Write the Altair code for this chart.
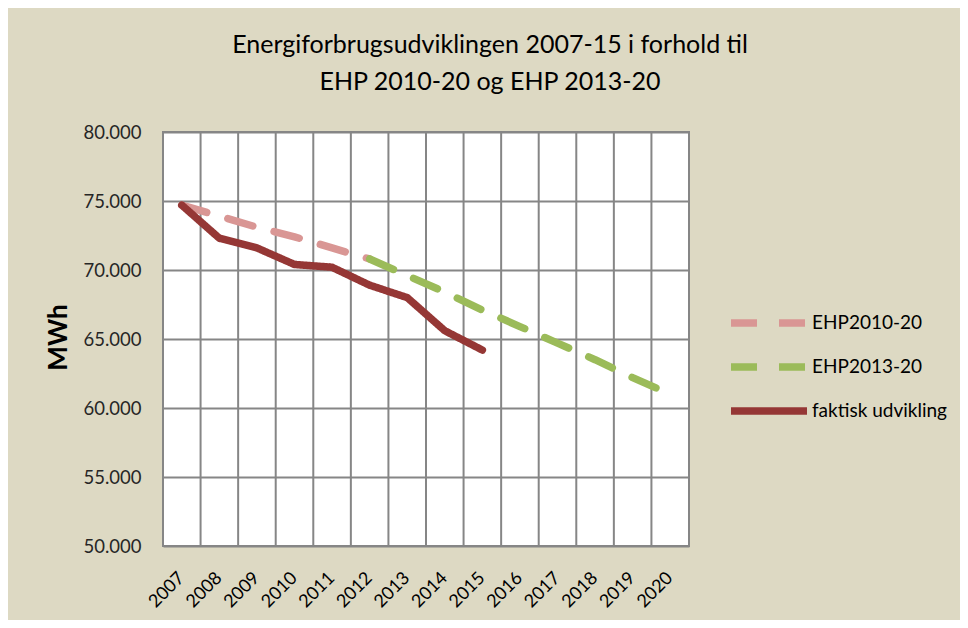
import altair as alt
import pandas as pd

years = [str(y) for y in range(2007, 2021)]
ehp2010_years = ["2007", "2008", "2009", "2010", "2011", "2012"]
ehp2010_vals = [74700, 73900, 73100, 72400, 71600, 70800]
ehp2013_years = ["2012", "2013", "2014", "2015", "2016", "2017", "2018", "2019", "2020"]
ehp2013_vals = [70800, 69600, 68400, 67100, 65900, 64700, 63500, 62200, 61000]
actual_years = ["2007", "2008", "2009", "2010", "2011", "2012", "2013", "2014", "2015"]
actual_vals = [74700, 72300, 71600, 70400, 70200, 68900, 68000, 65600, 64200]
series_names = ["EHP2010-20", "EHP2013-20", "faktisk udvikling"]
series_colors = ["#D99694", "#9BBB59", "#953735"]
y_ticks = [50000, 55000, 60000, 65000, 70000, 75000, 80000]

rows = []
for yr, v in zip(ehp2010_years, ehp2010_vals):
    rows.append({"year": yr, "value": v, "series": series_names[0]})
for yr, v in zip(ehp2013_years, ehp2013_vals):
    rows.append({"year": yr, "value": v, "series": series_names[1]})
for yr, v in zip(actual_years, actual_vals):
    rows.append({"year": yr, "value": v, "series": series_names[2]})
df = pd.DataFrame(rows)
grid_df = pd.DataFrame({"year": years[1:]})

FONT = "Lato"
xscale = alt.Scale(type="band", domain=years, paddingInner=0, paddingOuter=0)
xaxis = alt.Axis(
    title=None,
    labelAngle=-45,
    labelFontSize=18,
    labelFont=FONT,
    labelColor="#000000",
    ticks=False,
    domain=False,
    grid=False,
    labelPadding=29,
    labelAlign="right",
    labelBaseline="middle",
    labelOverlap=False,
    bandPosition=0.5,
)

legend_kw = dict(
    title=None,
    orient="none",
    legendX=583,
    legendY=168,
    symbolType="M-2,0H2",
    symbolSize=1444,
    symbolStrokeWidth=7,
    labelFont=FONT,
    labelFontSize=19,
    labelColor="#000000",
    labelOffset=20,
    rowPadding=6,
)

grid = alt.Chart(grid_df).mark_rule(color="#868686", strokeWidth=2).encode(
    x=alt.X("year:O", scale=xscale, bandPosition=0, axis=xaxis)
)

lines = alt.Chart(df).mark_line(strokeCap="round", strokeJoin="round").encode(
    x=alt.X("year:O", scale=xscale, bandPosition=0.5, axis=xaxis),
    y=alt.Y(
        "value:Q",
        scale=alt.Scale(domain=[50000, 80000], nice=False, zero=False),
        axis=alt.Axis(
            values=y_ticks,
            labelExpr="replace(format(datum.value, ',d'), ',', '.')",
            title="MWh",
            titleFont=FONT,
            titleFontSize=26,
            titleFontWeight="bold",
            titleColor="#000000",
            titleAngle=-90,
            titleX=-105,
            titleY=205,
            titleAlign="center",
            titleBaseline="middle",
            labelFont=FONT,
            labelFontSize=18.5,
            labelColor="#262626",
            labelPadding=22,
            ticks=False,
            domain=False,
            grid=True,
            gridColor="#868686",
            gridWidth=2,
        ),
    ),
    stroke=alt.Stroke(
        "series:N",
        scale=alt.Scale(domain=series_names, range=series_colors),
        legend=alt.Legend(**legend_kw),
    ),
    strokeDash=alt.StrokeDash(
        "series:N",
        scale=alt.Scale(domain=series_names, range=[[26, 22], [26, 22], [1, 0]]),
        legend=alt.Legend(**legend_kw),
    ),
    strokeWidth=alt.StrokeWidth(
        "series:N",
        scale=alt.Scale(domain=series_names, range=[7.5, 7.5, 9]),
        legend=None,
    ),
    order=alt.Order("series:N"),
)

chart = (
    alt.layer(grid, lines)
    .properties(
        width=526,
        height=414,
        autosize=alt.AutoSizeParams(type="none"),
        padding={"left": 155, "top": 124, "right": 271, "bottom": 74},
        background="#DDD9C3",
        title=alt.TitleParams(
            text=["Energiforbrugsudviklingen 2007-15 i forhold til", "EHP 2010-20 og EHP 2013-20"],
            font=FONT,
            fontSize=25,
            fontWeight="normal",
            color="#000000",
            anchor="middle",
            dx=64,
            offset=28,
            lineHeight=37,
        ),
    )
    .configure_view(fill="#FFFFFF", stroke="#868686", strokeWidth=2)
)

chart.save("out.html", embed_options={"renderer": "svg", "actions": False})
